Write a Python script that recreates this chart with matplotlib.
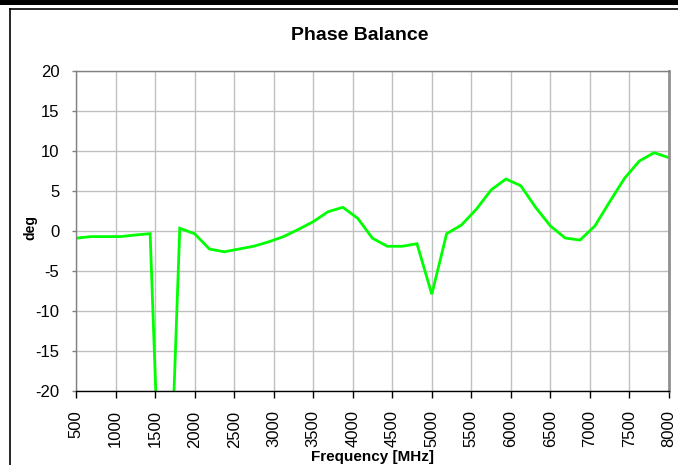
import matplotlib
matplotlib.use("Agg")
import matplotlib.pyplot as plt
from matplotlib.lines import Line2D
from matplotlib.patches import Rectangle
import numpy as np

plt.rcParams['font.family'] = ['Liberation Sans', 'DejaVu Sans']

freq_start = 500.0
freq_step = 187.5
phase = [-0.9, -0.7, -0.7, -0.7, -0.5, -0.33, -52.0, 0.34, -0.34, -2.25,
         -2.6, -2.25, -1.9, -1.35, -0.7, 0.2, 1.16, 2.41, 2.96, 1.59,
         -0.91, -1.91, -1.91, -1.59, -7.91, -0.34, 0.75, 2.71, 5.13, 6.5,
         5.66, 2.96, 0.63, -0.88, -1.13, 0.63, 3.66, 6.59, 8.75, 9.79, 9.16]
freq = [freq_start + i * freq_step for i in range(len(phase))]

x_ticks = list(range(500, 8001, 500))
y_ticks = [20, 15, 10, 5, 0, -5, -10, -15, -20]

W, H = 678, 465
fig = plt.figure(figsize=(W / 100, H / 100), dpi=100)

# decorative frame
fig.add_artist(Rectangle((0, 1 - 5 / H), 1, 5 / H, transform=fig.transFigure,
                         color='black', lw=0))
fig.add_artist(Line2D([10 / W, 10 / W], [0, 1 - 9.5 / H], transform=fig.transFigure,
                      color='black', lw=1.2))
fig.add_artist(Line2D([10 / W, 1], [1 - 9.5 / H, 1 - 9.5 / H], transform=fig.transFigure,
                      color='black', lw=1.2))

left, right, top, bottom = 76, 669, 71, 391
ax = fig.add_axes([left / W, 1 - bottom / H, (right - left) / W, (bottom - top) / H])

ax.plot(freq, phase, color='#00ff00', lw=2.0, solid_joinstyle='miter', clip_on=True)

ax.set_xlim(500, 8000)
ax.set_ylim(-20, 20)
ax.set_xticks(x_ticks)
ax.set_yticks(y_ticks)
ax.set_xticklabels([str(t) for t in x_ticks], rotation=90, fontsize=12)
ax.set_yticklabels([str(t) for t in y_ticks], fontsize=12)
ax.grid(True, color='#c0c0c0', lw=1.0)
ax.set_axisbelow(True)

for s in ['left', 'top']:
    ax.spines[s].set_color('#808080')
    ax.spines[s].set_linewidth(1.0)
ax.spines['right'].set_color('#909090')
ax.spines['right'].set_linewidth(2.0)
ax.spines['bottom'].set_color('black')
ax.spines['bottom'].set_linewidth(1.0)

ax.tick_params(axis='x', direction='out', length=5, width=1, color='black', pad=9)
ax.tick_params(axis='y', direction='out', length=3, width=1, color='#808080', pad=9)

ax.set_ylabel('deg', fontsize=10, fontweight='bold', va='center')
ax.yaxis.set_label_coords((30 - left) / (right - left), 0.51)
ax.set_xlabel('Frequency [MHz]', fontsize=11, fontweight='bold', va='top')
ax.xaxis.set_label_coords(0.5, (bottom - 450) / (bottom - top))

fig.text(360 / W, 1 - 35 / H, 'Phase Balance', ha='center', va='center',
         fontsize=14, fontweight='bold')

fig.savefig('out.png', dpi=100)
